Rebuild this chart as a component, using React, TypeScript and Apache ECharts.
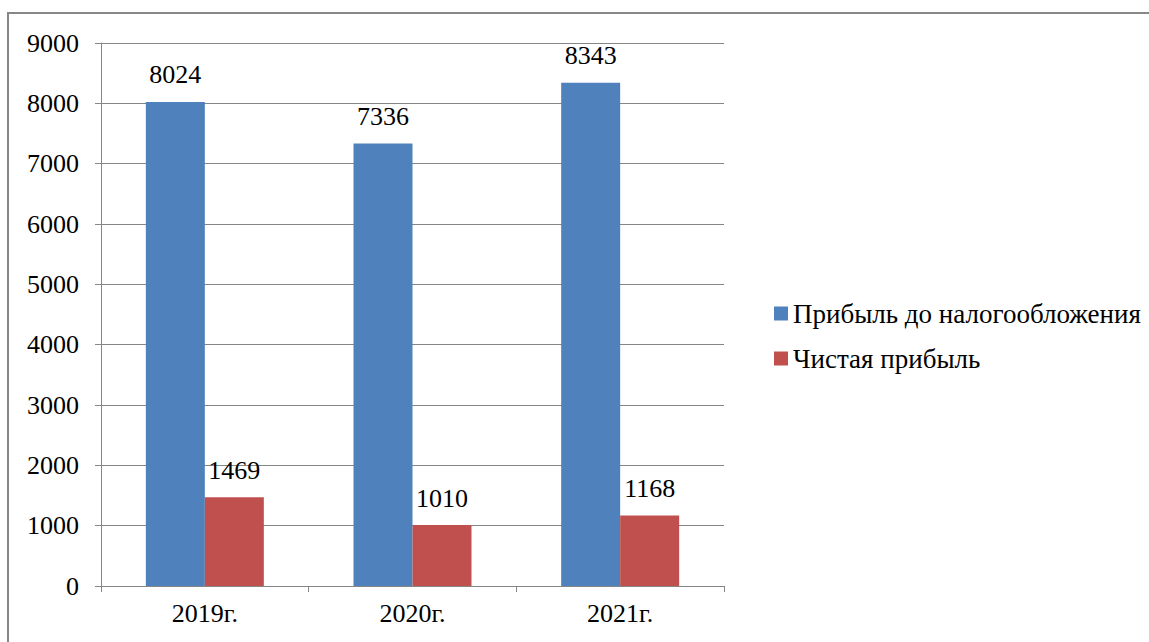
import React, { useEffect, useRef } from "react";
import * as echarts from "echarts";

const categories = ["2019г.", "2020г.", "2021г."];
const seriesNames = ["Прибыль до налогообложения", "Чистая прибыль"];
const profitBeforeTax = [8024, 7336, 8343];
const netProfit = [1469, 1010, 1168];

const FONT = "Liberation Serif";
const FS = 26;

export default function App() {
  const ref = useRef<HTMLDivElement>(null);
  useEffect(() => {
    if (!ref.current) return;
    const chart = echarts.init(ref.current, undefined, { renderer: "svg" });
    const lbl = { show: true, position: "top", distance: 14, fontFamily: FONT, fontSize: FS, color: "#000" };
    chart.setOption({
      animation: false,
      backgroundColor: "#ffffff",
      textStyle: { fontFamily: FONT, fontSize: FS },
      graphic: [
        {
          type: "rect",
          shape: { x: 8, y: 13, width: 2000, height: 2000 },
          style: { fill: "none", stroke: "#878787", lineWidth: 2 },
          silent: true,
        },
      ],
      grid: { left: 101, right: 425, top: 43, bottom: 56, containLabel: false },
      legend: {
        orient: "vertical",
        left: 769,
        top: 295,
        itemWidth: 14,
        itemHeight: 14,
        itemGap: 18,
        icon: "rect",
        textStyle: { fontFamily: FONT, fontSize: 27, color: "#000" },
        data: seriesNames,
      },
      xAxis: {
        type: "category",
        data: categories,
        axisLine: { show: true, lineStyle: { color: "#868686", width: 1 } },
        axisTick: { show: true, length: 6, alignWithLabel: false, lineStyle: { color: "#868686" } },
        axisLabel: { fontFamily: FONT, fontSize: FS, color: "#000", margin: 14 },
      },
      yAxis: {
        type: "value",
        min: 0,
        max: 9000,
        interval: 1000,
        axisLine: { show: true, lineStyle: { color: "#868686", width: 1 } },
        axisTick: { show: true, length: 6, lineStyle: { color: "#868686" } },
        splitLine: { show: true, lineStyle: { color: "#868686", width: 1 } },
        axisLabel: {
          fontFamily: FONT,
          fontSize: FS,
          color: "#000",
          margin: 22,
          formatter: (v: number) => String(v),
        },
      },
      series: [
        {
          name: seriesNames[0],
          type: "bar",
          data: profitBeforeTax,
          barWidth: 59,
          barGap: "0%",
          itemStyle: { color: "#4F81BD" },
          label: lbl,
        },
        {
          name: seriesNames[1],
          type: "bar",
          data: netProfit,
          barWidth: 59,
          barGap: "0%",
          itemStyle: { color: "#C0504D" },
          label: lbl,
        },
      ],
    });
    return () => chart.dispose();
  }, []);
  return (
    <div
      ref={ref}
      style={{ position: "fixed", left: 0, top: 0, width: 1149, height: 642 }}
    />
  );
}
